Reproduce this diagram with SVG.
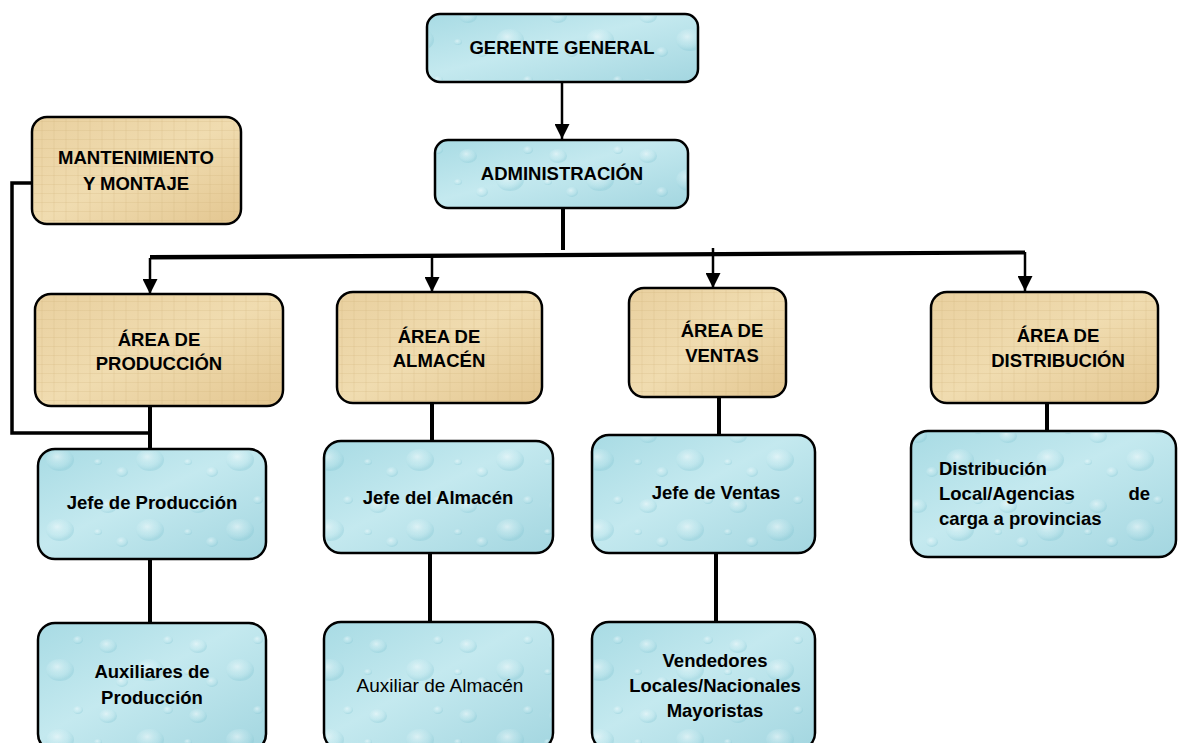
<svg xmlns="http://www.w3.org/2000/svg" width="1181" height="743" viewBox="0 0 1181 743">
<defs>
<linearGradient id="gBlue" x1="0" y1="0" x2="1" y2="1">
<stop offset="0" stop-color="#a8dbe4"/>
<stop offset="0.45" stop-color="#c4e9ef"/>
<stop offset="1" stop-color="#a3d6e0"/>
</linearGradient>
<radialGradient id="drop" cx="0.4" cy="0.35" r="0.6">
<stop offset="0" stop-color="#ffffff" stop-opacity="0.5"/>
<stop offset="0.6" stop-color="#d6f1f5" stop-opacity="0.2"/>
<stop offset="1" stop-color="#7fc3d1" stop-opacity="0.3"/>
</radialGradient>
<pattern id="pDrops" width="90" height="70" patternUnits="userSpaceOnUse">
<ellipse cx="18" cy="16" rx="9" ry="7" fill="url(#drop)"/>
<ellipse cx="60" cy="40" rx="14" ry="11" fill="url(#drop)"/>
<ellipse cx="32" cy="52" rx="6" ry="5" fill="url(#drop)"/>
<ellipse cx="78" cy="10" rx="5" ry="4" fill="url(#drop)"/>
<ellipse cx="8" cy="42" rx="4" ry="3" fill="url(#drop)"/>
</pattern>
<linearGradient id="gTan" x1="0" y1="0" x2="1" y2="1">
<stop offset="0" stop-color="#e9d09f"/>
<stop offset="0.5" stop-color="#f0dcb0"/>
<stop offset="1" stop-color="#e3c690"/>
</linearGradient>
<pattern id="pTan" width="12" height="9" patternUnits="userSpaceOnUse">
<path d="M0 4.5H12M6 0V9" stroke="#c9ab72" stroke-width="0.6" stroke-opacity="0.35"/>
</pattern>
<marker id="arr" viewBox="0 0 15 15" refX="15" refY="7.5" markerWidth="15" markerHeight="15" orient="auto" markerUnits="userSpaceOnUse">
<path d="M0 0L15 7.5L0 15Z" fill="#000"/>
</marker>
</defs>
<style>
.box{stroke:#000;stroke-width:2.5}
.blue{fill:url(#gBlue)}
.tan{fill:url(#gTan)}
.tex1{fill:url(#pDrops);stroke:none}
.tex2{fill:url(#pTan);stroke:none}
text{font-family:"Liberation Sans",Arial,sans-serif;font-size:18.5px;font-weight:bold;fill:#000;text-anchor:middle}
.reg{font-weight:normal;font-size:19px}
.ln{stroke:#000;stroke-width:4;fill:none}
.ar{stroke:#000;stroke-width:2.5;fill:none}
</style>

<g id="connectors">
<path class="ar" d="M562 82V139" marker-end="url(#arr)"/>
<path class="ln" d="M563 208V250"/>
<path d="M150 255L1025 250.5L1025 254.5L150 259.5Z" fill="#000"/>
<path class="ar" d="M150 258V294" marker-end="url(#arr)"/>
<path class="ar" d="M432 256V292" marker-end="url(#arr)"/>
<path class="ar" d="M713 248V288" marker-end="url(#arr)"/>
<path class="ar" d="M1025 252V291" marker-end="url(#arr)"/>
<path class="ln" d="M36 183H12V433H150" style="stroke-width:3.5"/>
<path class="ln" d="M150 406V449"/>
<path class="ln" d="M150 559V623"/>
<path class="ln" d="M432 403V441"/>
<path class="ln" d="M430 553V622"/>
<path class="ln" d="M719 397V435"/>
<path class="ln" d="M716 553V622"/>
<path class="ln" d="M1047 403V431"/>
</g>

<g id="gerente">
<rect class="box blue" x="427" y="14" width="271" height="68" rx="13"/>
<rect class="tex1" x="429" y="16" width="267" height="64" rx="12"/>
<text x="562" y="53.5">GERENTE GENERAL</text>
</g>

<g id="administracion">
<rect class="box blue" x="435" y="140" width="253" height="68" rx="13"/>
<rect class="tex1" x="437" y="142" width="249" height="64" rx="12"/>
<text x="562" y="179.5">ADMINISTRACIÓN</text>
</g>

<g id="mantenimiento">
<rect class="box tan" x="32" y="117" width="209" height="107" rx="15"/>
<rect class="tex2" x="34" y="119" width="205" height="103" rx="14"/>
<text x="136" y="164">MANTENIMIENTO</text>
<text x="136" y="189.5">Y MONTAJE</text>
</g>

<g id="area-produccion">
<rect class="box tan" x="35" y="294" width="248" height="112" rx="16"/>
<rect class="tex2" x="37" y="296" width="244" height="108" rx="15"/>
<text x="159" y="346">ÁREA DE</text>
<text x="159" y="370">PRODUCCIÓN</text>
</g>

<g id="area-almacen">
<rect class="box tan" x="337" y="292" width="205" height="111" rx="16"/>
<rect class="tex2" x="339" y="294" width="201" height="107" rx="15"/>
<text x="439" y="342.5">ÁREA DE</text>
<text x="439" y="366.5">ALMACÉN</text>
</g>

<g id="area-ventas">
<rect class="box tan" x="629" y="288" width="157" height="109" rx="15"/>
<rect class="tex2" x="631" y="290" width="153" height="105" rx="14"/>
<text x="722" y="336.5">ÁREA DE</text>
<text x="722" y="361.5">VENTAS</text>
</g>

<g id="area-distribucion">
<rect class="box tan" x="931" y="292" width="227" height="111" rx="16"/>
<rect class="tex2" x="933" y="294" width="223" height="107" rx="15"/>
<text x="1058" y="341.5">ÁREA DE</text>
<text x="1058" y="366.5">DISTRIBUCIÓN</text>
</g>

<g id="jefe-produccion">
<rect class="box blue" x="38" y="449" width="228" height="110" rx="17"/>
<rect class="tex1" x="40" y="451" width="224" height="106" rx="16"/>
<text x="152" y="508.5">Jefe de Producción</text>
</g>

<g id="jefe-almacen">
<rect class="box blue" x="324" y="441" width="229" height="112" rx="17"/>
<rect class="tex1" x="326" y="443" width="225" height="108" rx="16"/>
<text x="438" y="503.5">Jefe del Almacén</text>
</g>

<g id="jefe-ventas">
<rect class="box blue" x="592" y="435" width="223" height="118" rx="17"/>
<rect class="tex1" x="594" y="437" width="219" height="114" rx="16"/>
<text x="716" y="498.5">Jefe de Ventas</text>
</g>

<g id="distribucion-local">
<rect class="box blue" x="911" y="431" width="265" height="126" rx="17"/>
<rect class="tex1" x="913" y="433" width="261" height="122" rx="16"/>
<text x="939" y="474.5" style="text-anchor:start">Distribución</text>
<text x="939" y="499.5" style="text-anchor:start">Local/Agencias</text>
<text x="1150" y="499.5" style="text-anchor:end">de</text>
<text x="939" y="524.5" style="text-anchor:start">carga a provincias</text>
</g>

<g id="auxiliares-produccion">
<rect class="box blue" x="38" y="623" width="228" height="128" rx="17"/>
<rect class="tex1" x="40" y="625" width="224" height="124" rx="16"/>
<text x="152" y="677.5">Auxiliares de</text>
<text x="152" y="703.5">Producción</text>
</g>

<g id="auxiliar-almacen">
<rect class="box blue" x="324" y="622" width="229" height="128" rx="17"/>
<rect class="tex1" x="326" y="624" width="225" height="124" rx="16"/>
<text class="reg" x="440" y="691.5">Auxiliar de Almacén</text>
</g>

<g id="vendedores">
<rect class="box blue" x="592" y="622" width="223" height="128" rx="17"/>
<rect class="tex1" x="594" y="624" width="219" height="124" rx="16"/>
<text x="715" y="666.5">Vendedores</text>
<text x="715" y="691.5">Locales/Nacionales</text>
<text x="715" y="716.5">Mayoristas</text>
</g>
</svg>
